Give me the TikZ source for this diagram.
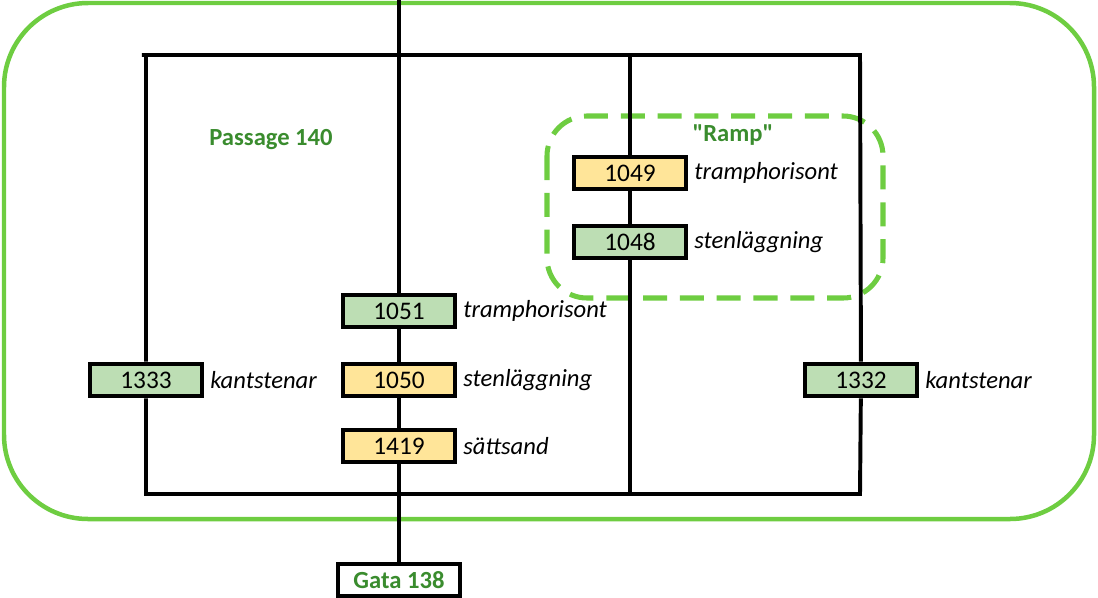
\documentclass[tikz,border=0pt]{standalone}
\usepackage{fontspec}
\setmainfont{Carlito}
\newfontfamily\straightfont{Carlito}
\usetikzlibrary{positioning}
\definecolor{boxgreen}{RGB}{189,222,180}
\definecolor{boxyellow}{RGB}{255,229,153}
\definecolor{areagreen}{RGB}{110,205,65}
\definecolor{namegreen}{RGB}{58,140,46}
\tikzset{
  unit/.style={draw, line width=3.4pt, minimum width=2.8cm, minimum height=0.8cm,
    inner sep=0pt, font=\fontsize{18}{20}\selectfont},
  layer/.style={font=\fontsize{17.5}{20}\selectfont\itshape, inner sep=0pt},
  areaname/.style={font=\fontsize{17.5}{20}\selectfont\bfseries, text=namegreen},
  wire/.style={line width=2.8pt}
}
\begin{document}
\begin{tikzpicture}[x=0.025cm, y=-0.025cm]
  \useasboundingbox (0,0) rectangle (1098,598);
  % outer area (passage)
  \draw[areagreen, line width=3.2pt, rounded corners=2.1cm] (4,3) rectangle (1094,519);
  \node[areaname] (passage) at (271,140) {Passage 140};
  % ramp area
  \draw[areagreen, line width=3.6pt, dash pattern=on 0.6cm off 0.32cm,
    rounded corners=1cm] (547,116) rectangle (883,298);
  \node[areaname] (ramp) at (733,135) {\straightfont\bfseries "Ramp"};
  % frame corners
  \coordinate (tl) at (146,55);
  \coordinate (tr) at (860,55);
  \coordinate (bl) at (146,494);
  \coordinate (br) at (860,494);
  \coordinate (tm) at (630,55);
  \coordinate (bm) at (630,494);
  \coordinate (top) at (399,0);
  % units, middle column
  \node[unit, fill=boxgreen] (n1051) at (399,311) {1051};
  \node[unit, fill=boxyellow] (n1050) at (399,380) {1050};
  \node[unit, fill=boxyellow] (n1419) at (399,446) {1419};
  \node[unit, fill=white, minimum width=3.05cm, font=\fontsize{17.5}{20}\selectfont\bfseries,
    text=namegreen] (gata) at (399,580) {Gata 138};
  % units, ramp
  \node[unit, fill=boxyellow] (n1049) at (630,173) {1049};
  \node[unit, fill=boxgreen] (n1048) at (630,242) {1048};
  % units, edges
  \node[unit, fill=boxgreen] (n1333) at (146,380) {1333};
  \node[unit, fill=boxgreen] (n1332) at (861,380) {1332};
  % labels
  \node[layer, right=4pt of n1051] {tramphorisont};
  \node[layer, right=4pt of n1050] {stenläggning};
  \node[layer, right=4pt of n1419] {sättsand};
  \node[layer, right=4pt of n1049] {tramphorisont};
  \node[layer, right=4pt of n1048] {stenläggning};
  \node[layer, right=4pt of n1333] {kantstenar};
  \node[layer, right=4pt of n1332] {kantstenar};
  % connectors
  \draw[wire] ([xshift=-3pt]tl) -- (tr) -- (n1332) -- (br) -- (bl) -- (n1333) -- (tl);
  \draw[wire] (tm) -- (n1049) -- (n1048) -- (bm);
  \draw[wire] (top) -- (n1051) -- (n1050) -- (n1419) -- (gata);
\end{tikzpicture}
\end{document}
